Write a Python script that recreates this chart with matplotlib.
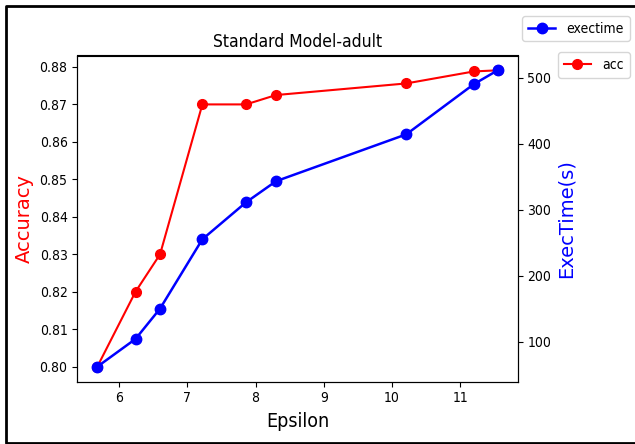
import matplotlib
matplotlib.use("Agg")
import matplotlib.pyplot as plt
from matplotlib.lines import Line2D

plt.rcParams["font.stretch"] = "condensed"

# valeurs
epsilon = [5.68, 6.24, 6.60, 7.22, 7.86, 8.30, 10.21, 11.20, 11.55]
acc = [0.800, 0.820, 0.830, 0.870, 0.870, 0.8725, 0.8756, 0.8788, 0.8791]
exectime = [62, 104, 150, 255, 311, 343, 414, 490, 511]

fig = plt.figure(figsize=(6.35, 4.44), dpi=100)
ax = fig.add_axes([77.3 / 635, 1 - 381.5 / 444, (517.7 - 77.3) / 635, (381.5 - 55.5) / 444])

ax.plot(epsilon, acc, color="red", marker="o", markersize=7, linewidth=1.5, label="acc")
ax.set_xlabel("Epsilon", fontsize=14, labelpad=5)
ax.set_ylabel("Accuracy", color="red", fontsize=14, fontstretch="normal")
ax.set_title("Standard Model-adult", fontsize=12.5)
ax.tick_params(labelsize=10)

ax2 = ax.twinx()
ax2.plot(epsilon, exectime, color="blue", marker="o", markersize=7.5, linewidth=1.8, label="exectime")
ax2.set_ylabel("ExecTime(s)", color="blue", fontsize=14, fontstretch="normal")
ax2.set_yticks([100, 200, 300, 400, 500])
ax2.tick_params(labelsize=10)

fig.legend(handles=ax2.get_lines(), loc="upper right", bbox_to_anchor=(629.5 / 635, 1 - 16 / 444),
           borderaxespad=0, fontsize=10)
fig.legend(handles=ax.get_lines(), loc="upper right", bbox_to_anchor=(629.5 / 635, 1 - 52.5 / 444),
           borderaxespad=0, fontsize=10)

# cadre noir autour de la figure (bord droit coupé)
x0, x1 = 6 / 635, 1.0
y0, y1 = 1 - 442.5 / 444, 1 - 6 / 444
fig.add_artist(Line2D([x1, x0, x0, x1], [y1, y1, y0, y0], transform=fig.transFigure,
                      color="black", linewidth=2))

plt.savefig("out.png", dpi=100)
plt.close()
